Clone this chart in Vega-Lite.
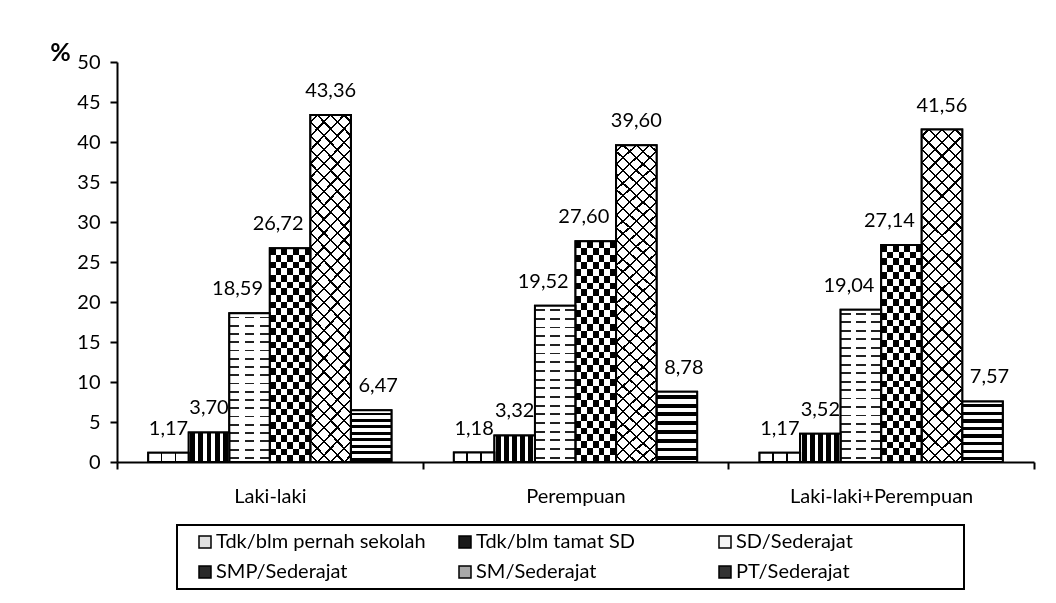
{
  "$schema": "https://vega.github.io/schema/vega-lite/v6.json",
  "width": 917,
  "height": 400,
  "autosize": {"type": "none"},
  "padding": {"left": 117, "top": 62, "right": 22, "bottom": 141},
  "background": "white",
  "data": {
    "values": [
      {"group": "Laki-laki", "edu": "Tdk/blm pernah sekolah", "value": 1.17},
      {"group": "Laki-laki", "edu": "Tdk/blm tamat SD", "value": 3.70},
      {"group": "Laki-laki", "edu": "SD/Sederajat", "value": 18.59},
      {"group": "Laki-laki", "edu": "SMP/Sederajat", "value": 26.72},
      {"group": "Laki-laki", "edu": "SM/Sederajat", "value": 43.36},
      {"group": "Laki-laki", "edu": "PT/Sederajat", "value": 6.47},
      {"group": "Perempuan", "edu": "Tdk/blm pernah sekolah", "value": 1.18},
      {"group": "Perempuan", "edu": "Tdk/blm tamat SD", "value": 3.32},
      {"group": "Perempuan", "edu": "SD/Sederajat", "value": 19.52},
      {"group": "Perempuan", "edu": "SMP/Sederajat", "value": 27.60},
      {"group": "Perempuan", "edu": "SM/Sederajat", "value": 39.60},
      {"group": "Perempuan", "edu": "PT/Sederajat", "value": 8.78},
      {"group": "Laki-laki+Perempuan", "edu": "Tdk/blm pernah sekolah", "value": 1.17},
      {"group": "Laki-laki+Perempuan", "edu": "Tdk/blm tamat SD", "value": 3.52},
      {"group": "Laki-laki+Perempuan", "edu": "SD/Sederajat", "value": 19.04},
      {"group": "Laki-laki+Perempuan", "edu": "SMP/Sederajat", "value": 27.14},
      {"group": "Laki-laki+Perempuan", "edu": "SM/Sederajat", "value": 41.56},
      {"group": "Laki-laki+Perempuan", "edu": "PT/Sederajat", "value": 7.57}
    ]
  },
  "encoding": {
    "x": {
      "field": "group", "type": "nominal",
      "scale": {"domain": ["Laki-laki", "Perempuan", "Laki-laki+Perempuan"], "paddingInner": 0, "paddingOuter": 0},
      "axis": {"title": null, "labelAngle": 0, "tickBand": "extent", "tickSize": 7, "labelPadding": 17, "labelLimit": 400}
    },
    "xOffset": {
      "field": "edu", "type": "nominal",
      "scale": {"domain": ["Tdk/blm pernah sekolah", "Tdk/blm tamat SD", "SD/Sederajat", "SMP/Sederajat", "SM/Sederajat", "PT/Sederajat"], "paddingInner": 0, "paddingOuter": 0.77}
    },
    "y": {
      "field": "value", "type": "quantitative",
      "scale": {"domain": [0, 50], "nice": false},
      "axis": {
        "values": [0, 5, 10, 15, 20, 25, 30, 35, 40, 45, 50],
        "tickSize": 7, "labelPadding": 10,
        "title": "%", "titleAngle": 0, "titleX": -57, "titleY": -10,
        "titleAlign": "center", "titleBaseline": "middle",
        "titleFont": "Lato", "titleFontSize": 25, "titleFontWeight": "bold", "titleColor": "black"
      }
    }
  },
  "layer": [
    {
      "mark": {"type": "bar", "stroke": "black", "strokeWidth": 2},
      "encoding": {
        "fill": {
          "field": "edu", "type": "nominal",
          "scale": {
            "domain": ["Tdk/blm pernah sekolah", "Tdk/blm tamat SD", "SD/Sederajat", "SMP/Sederajat", "SM/Sederajat", "PT/Sederajat"],
            "range": ["#e0e0e0", "#1a1a1a", "#f4f4f4", "#2a2a2a", "#a8a8a8", "#333333"]
          },
          "legend": {
            "title": " ", "titleOrient": "right", "titlePadding": 104, "titleFontSize": 10,
            "orient": "none", "legendX": 60, "legendY": 463,
            "direction": "horizontal", "columns": 3, "gridAlign": "all",
            "symbolType": "square", "symbolSize": 144, "symbolStrokeColor": "black", "symbolStrokeWidth": 1.5,
            "symbolOffset": 11, "labelOffset": 1, "columnPadding": 18, "rowPadding": 10, "padding": 7,
            "labelFont": "Lato", "labelFontSize": 20, "labelColor": "black", "labelLimit": 400,
            "strokeColor": "black",
            "encode": {"legend": {"update": {"strokeWidth": {"value": 2}}}}
          }
        }
      }
    },
    {
      "transform": [{"filter": "datum.edu === 'Tdk/blm pernah sekolah'"}],
      "mark": {"type": "bar", "fill": {"gradient": "linear", "x1": 0, "y1": 0, "x2": 1, "y2": 0, "stops": [
        {"offset": 0, "color": "white"}, {"offset": 0.31, "color": "white"}, {"offset": 0.31, "color": "black"}, {"offset": 0.35, "color": "black"},
        {"offset": 0.35, "color": "white"}, {"offset": 0.65, "color": "white"}, {"offset": 0.65, "color": "black"}, {"offset": 0.69, "color": "black"},
        {"offset": 0.69, "color": "white"}, {"offset": 1, "color": "white"}]}}
    },
    {
      "transform": [{"filter": "datum.edu === 'Tdk/blm tamat SD'"}],
      "mark": {"type": "bar", "fill": {"gradient": "linear", "x1": 0, "y1": 0, "x2": 1, "y2": 0, "stops": [
        {"offset": 0, "color": "white"}, {"offset": 0.04, "color": "white"}, {"offset": 0.04, "color": "black"}, {"offset": 0.16, "color": "black"},
        {"offset": 0.16, "color": "white"}, {"offset": 0.24, "color": "white"}, {"offset": 0.24, "color": "black"}, {"offset": 0.36, "color": "black"},
        {"offset": 0.36, "color": "white"}, {"offset": 0.44, "color": "white"}, {"offset": 0.44, "color": "black"}, {"offset": 0.56, "color": "black"},
        {"offset": 0.56, "color": "white"}, {"offset": 0.64, "color": "white"}, {"offset": 0.64, "color": "black"}, {"offset": 0.76, "color": "black"},
        {"offset": 0.76, "color": "white"}, {"offset": 0.84, "color": "white"}, {"offset": 0.84, "color": "black"}, {"offset": 0.96, "color": "black"},
        {"offset": 0.96, "color": "white"}, {"offset": 1, "color": "white"}]}}
    },
    {
      "transform": [{"filter": "datum.edu === 'SD/Sederajat'"}],
      "mark": {"type": "bar", "fill": {"gradient": "linear", "x1": 0, "y1": 0, "x2": 0, "y2": 1, "stops": [
        {"offset": 0, "color": "white"},
        {"offset": 0.0218, "color": "white"}, {"offset": 0.0218, "color": "#222"}, {"offset": 0.0338, "color": "#222"}, {"offset": 0.0338, "color": "white"},
        {"offset": 0.0773, "color": "white"}, {"offset": 0.0773, "color": "#222"}, {"offset": 0.0893, "color": "#222"}, {"offset": 0.0893, "color": "white"},
        {"offset": 0.1329, "color": "white"}, {"offset": 0.1329, "color": "#222"}, {"offset": 0.1449, "color": "#222"}, {"offset": 0.1449, "color": "white"},
        {"offset": 0.1884, "color": "white"}, {"offset": 0.1884, "color": "#222"}, {"offset": 0.2004, "color": "#222"}, {"offset": 0.2004, "color": "white"},
        {"offset": 0.244, "color": "white"}, {"offset": 0.244, "color": "#222"}, {"offset": 0.256, "color": "#222"}, {"offset": 0.256, "color": "white"},
        {"offset": 0.2996, "color": "white"}, {"offset": 0.2996, "color": "#222"}, {"offset": 0.3116, "color": "#222"}, {"offset": 0.3116, "color": "white"},
        {"offset": 0.3551, "color": "white"}, {"offset": 0.3551, "color": "#222"}, {"offset": 0.3671, "color": "#222"}, {"offset": 0.3671, "color": "white"},
        {"offset": 0.4107, "color": "white"}, {"offset": 0.4107, "color": "#222"}, {"offset": 0.4227, "color": "#222"}, {"offset": 0.4227, "color": "white"},
        {"offset": 0.4662, "color": "white"}, {"offset": 0.4662, "color": "#222"}, {"offset": 0.4782, "color": "#222"}, {"offset": 0.4782, "color": "white"},
        {"offset": 0.5218, "color": "white"}, {"offset": 0.5218, "color": "#222"}, {"offset": 0.5338, "color": "#222"}, {"offset": 0.5338, "color": "white"},
        {"offset": 0.5773, "color": "white"}, {"offset": 0.5773, "color": "#222"}, {"offset": 0.5893, "color": "#222"}, {"offset": 0.5893, "color": "white"},
        {"offset": 0.6329, "color": "white"}, {"offset": 0.6329, "color": "#222"}, {"offset": 0.6449, "color": "#222"}, {"offset": 0.6449, "color": "white"},
        {"offset": 0.6884, "color": "white"}, {"offset": 0.6884, "color": "#222"}, {"offset": 0.7004, "color": "#222"}, {"offset": 0.7004, "color": "white"},
        {"offset": 0.744, "color": "white"}, {"offset": 0.744, "color": "#222"}, {"offset": 0.756, "color": "#222"}, {"offset": 0.756, "color": "white"},
        {"offset": 0.7996, "color": "white"}, {"offset": 0.7996, "color": "#222"}, {"offset": 0.8116, "color": "#222"}, {"offset": 0.8116, "color": "white"},
        {"offset": 0.8551, "color": "white"}, {"offset": 0.8551, "color": "#222"}, {"offset": 0.8671, "color": "#222"}, {"offset": 0.8671, "color": "white"},
        {"offset": 0.9107, "color": "white"}, {"offset": 0.9107, "color": "#222"}, {"offset": 0.9227, "color": "#222"}, {"offset": 0.9227, "color": "white"},
        {"offset": 0.9662, "color": "white"}, {"offset": 0.9662, "color": "#222"}, {"offset": 0.9782, "color": "#222"}, {"offset": 0.9782, "color": "white"},
        {"offset": 1, "color": "white"}]}}
    },
    {
      "transform": [{"filter": "datum.edu === 'SMP/Sederajat'"}],
      "mark": {"type": "bar", "fill": {"gradient": "linear", "x1": 0, "y1": 0, "x2": 1, "y2": 0, "stops": [
        {"offset": 0, "color": "black"}, {"offset": 0.1429, "color": "black"}, {"offset": 0.1429, "color": "white"}, {"offset": 0.2857, "color": "white"},
        {"offset": 0.2857, "color": "black"}, {"offset": 0.4286, "color": "black"}, {"offset": 0.4286, "color": "white"}, {"offset": 0.5714, "color": "white"},
        {"offset": 0.5714, "color": "black"}, {"offset": 0.7143, "color": "black"}, {"offset": 0.7143, "color": "white"}, {"offset": 0.8571, "color": "white"},
        {"offset": 0.8571, "color": "black"}, {"offset": 1, "color": "black"}]}}
    },
    {
      "transform": [{"filter": "datum.edu === 'SM/Sederajat'"}],
      "mark": {"type": "bar", "fill": {"gradient": "linear", "x1": 0, "y1": 0, "x2": 0.1337, "y2": 1.105, "stops": [
        {"offset": 0, "color": "white"},
        {"offset": 0.0149, "color": "white"}, {"offset": 0.0149, "color": "black"}, {"offset": 0.0209, "color": "black"}, {"offset": 0.0209, "color": "white"},
        {"offset": 0.0506, "color": "white"}, {"offset": 0.0506, "color": "black"}, {"offset": 0.0566, "color": "black"}, {"offset": 0.0566, "color": "white"},
        {"offset": 0.0863, "color": "white"}, {"offset": 0.0863, "color": "black"}, {"offset": 0.0923, "color": "black"}, {"offset": 0.0923, "color": "white"},
        {"offset": 0.122, "color": "white"}, {"offset": 0.122, "color": "black"}, {"offset": 0.128, "color": "black"}, {"offset": 0.128, "color": "white"},
        {"offset": 0.1577, "color": "white"}, {"offset": 0.1577, "color": "black"}, {"offset": 0.1637, "color": "black"}, {"offset": 0.1637, "color": "white"},
        {"offset": 0.1934, "color": "white"}, {"offset": 0.1934, "color": "black"}, {"offset": 0.1994, "color": "black"}, {"offset": 0.1994, "color": "white"},
        {"offset": 0.2291, "color": "white"}, {"offset": 0.2291, "color": "black"}, {"offset": 0.2351, "color": "black"}, {"offset": 0.2351, "color": "white"},
        {"offset": 0.2649, "color": "white"}, {"offset": 0.2649, "color": "black"}, {"offset": 0.2709, "color": "black"}, {"offset": 0.2709, "color": "white"},
        {"offset": 0.3006, "color": "white"}, {"offset": 0.3006, "color": "black"}, {"offset": 0.3066, "color": "black"}, {"offset": 0.3066, "color": "white"},
        {"offset": 0.3363, "color": "white"}, {"offset": 0.3363, "color": "black"}, {"offset": 0.3423, "color": "black"}, {"offset": 0.3423, "color": "white"},
        {"offset": 0.372, "color": "white"}, {"offset": 0.372, "color": "black"}, {"offset": 0.378, "color": "black"}, {"offset": 0.378, "color": "white"},
        {"offset": 0.4077, "color": "white"}, {"offset": 0.4077, "color": "black"}, {"offset": 0.4137, "color": "black"}, {"offset": 0.4137, "color": "white"},
        {"offset": 0.4434, "color": "white"}, {"offset": 0.4434, "color": "black"}, {"offset": 0.4494, "color": "black"}, {"offset": 0.4494, "color": "white"},
        {"offset": 0.4791, "color": "white"}, {"offset": 0.4791, "color": "black"}, {"offset": 0.4851, "color": "black"}, {"offset": 0.4851, "color": "white"},
        {"offset": 0.5149, "color": "white"}, {"offset": 0.5149, "color": "black"}, {"offset": 0.5209, "color": "black"}, {"offset": 0.5209, "color": "white"},
        {"offset": 0.5506, "color": "white"}, {"offset": 0.5506, "color": "black"}, {"offset": 0.5566, "color": "black"}, {"offset": 0.5566, "color": "white"},
        {"offset": 0.5863, "color": "white"}, {"offset": 0.5863, "color": "black"}, {"offset": 0.5923, "color": "black"}, {"offset": 0.5923, "color": "white"},
        {"offset": 0.622, "color": "white"}, {"offset": 0.622, "color": "black"}, {"offset": 0.628, "color": "black"}, {"offset": 0.628, "color": "white"},
        {"offset": 0.6577, "color": "white"}, {"offset": 0.6577, "color": "black"}, {"offset": 0.6637, "color": "black"}, {"offset": 0.6637, "color": "white"},
        {"offset": 0.6934, "color": "white"}, {"offset": 0.6934, "color": "black"}, {"offset": 0.6994, "color": "black"}, {"offset": 0.6994, "color": "white"},
        {"offset": 0.7291, "color": "white"}, {"offset": 0.7291, "color": "black"}, {"offset": 0.7351, "color": "black"}, {"offset": 0.7351, "color": "white"},
        {"offset": 0.7649, "color": "white"}, {"offset": 0.7649, "color": "black"}, {"offset": 0.7709, "color": "black"}, {"offset": 0.7709, "color": "white"},
        {"offset": 0.8006, "color": "white"}, {"offset": 0.8006, "color": "black"}, {"offset": 0.8066, "color": "black"}, {"offset": 0.8066, "color": "white"},
        {"offset": 0.8363, "color": "white"}, {"offset": 0.8363, "color": "black"}, {"offset": 0.8423, "color": "black"}, {"offset": 0.8423, "color": "white"},
        {"offset": 0.872, "color": "white"}, {"offset": 0.872, "color": "black"}, {"offset": 0.878, "color": "black"}, {"offset": 0.878, "color": "white"},
        {"offset": 0.9077, "color": "white"}, {"offset": 0.9077, "color": "black"}, {"offset": 0.9137, "color": "black"}, {"offset": 0.9137, "color": "white"},
        {"offset": 0.9434, "color": "white"}, {"offset": 0.9434, "color": "black"}, {"offset": 0.9494, "color": "black"}, {"offset": 0.9494, "color": "white"},
        {"offset": 0.9791, "color": "white"}, {"offset": 0.9791, "color": "black"}, {"offset": 0.9851, "color": "black"}, {"offset": 0.9851, "color": "white"},
        {"offset": 1, "color": "white"}]}}
    },
    {
      "transform": [{"filter": "datum.edu === 'PT/Sederajat'"}],
      "mark": {"type": "bar", "fill": {"gradient": "linear", "x1": 0, "y1": 0, "x2": 0, "y2": 1, "stops": [
        {"offset": 0, "color": "white"},
        {"offset": 0.0438, "color": "white"}, {"offset": 0.0438, "color": "black"}, {"offset": 0.1, "color": "black"}, {"offset": 0.1, "color": "white"},
        {"offset": 0.1688, "color": "white"}, {"offset": 0.1688, "color": "black"}, {"offset": 0.225, "color": "black"}, {"offset": 0.225, "color": "white"},
        {"offset": 0.2938, "color": "white"}, {"offset": 0.2938, "color": "black"}, {"offset": 0.35, "color": "black"}, {"offset": 0.35, "color": "white"},
        {"offset": 0.4188, "color": "white"}, {"offset": 0.4188, "color": "black"}, {"offset": 0.475, "color": "black"}, {"offset": 0.475, "color": "white"},
        {"offset": 0.5438, "color": "white"}, {"offset": 0.5438, "color": "black"}, {"offset": 0.6, "color": "black"}, {"offset": 0.6, "color": "white"},
        {"offset": 0.6688, "color": "white"}, {"offset": 0.6688, "color": "black"}, {"offset": 0.725, "color": "black"}, {"offset": 0.725, "color": "white"},
        {"offset": 0.7938, "color": "white"}, {"offset": 0.7938, "color": "black"}, {"offset": 0.85, "color": "black"}, {"offset": 0.85, "color": "white"},
        {"offset": 0.9188, "color": "white"}, {"offset": 0.9188, "color": "black"}, {"offset": 0.975, "color": "black"}, {"offset": 0.975, "color": "white"},
        {"offset": 1, "color": "white"}]}}
    },
    {
      "transform": [{"filter": "datum.edu === 'SD/Sederajat'"}],
      "mark": {"type": "bar", "fill": {"gradient": "linear", "x1": 0, "y1": 0, "x2": 1, "y2": 0, "stops": [
        {"offset": 0, "color": "rgba(255,255,255,0)"}, {"offset": 0.25, "color": "rgba(255,255,255,0)"}, {"offset": 0.25, "color": "white"}, {"offset": 0.38, "color": "white"},
        {"offset": 0.38, "color": "rgba(255,255,255,0)"}, {"offset": 0.62, "color": "rgba(255,255,255,0)"}, {"offset": 0.62, "color": "white"}, {"offset": 0.75, "color": "white"},
        {"offset": 0.75, "color": "rgba(255,255,255,0)"}, {"offset": 1, "color": "rgba(255,255,255,0)"}]}}
    },
    {
      "transform": [{"filter": "datum.edu === 'SMP/Sederajat'"}],
      "mark": {"type": "bar", "blend": "difference", "fill": {"gradient": "linear", "x1": 0, "y1": 0, "x2": 0, "y2": 1, "stops": [
        {"offset": 0, "color": "black"}, {"offset": 0.03125, "color": "black"}, {"offset": 0.03125, "color": "white"}, {"offset": 0.0625, "color": "white"},
        {"offset": 0.0625, "color": "black"}, {"offset": 0.09375, "color": "black"}, {"offset": 0.09375, "color": "white"}, {"offset": 0.125, "color": "white"},
        {"offset": 0.125, "color": "black"}, {"offset": 0.15625, "color": "black"}, {"offset": 0.15625, "color": "white"}, {"offset": 0.1875, "color": "white"},
        {"offset": 0.1875, "color": "black"}, {"offset": 0.21875, "color": "black"}, {"offset": 0.21875, "color": "white"}, {"offset": 0.25, "color": "white"},
        {"offset": 0.25, "color": "black"}, {"offset": 0.28125, "color": "black"}, {"offset": 0.28125, "color": "white"}, {"offset": 0.3125, "color": "white"},
        {"offset": 0.3125, "color": "black"}, {"offset": 0.34375, "color": "black"}, {"offset": 0.34375, "color": "white"}, {"offset": 0.375, "color": "white"},
        {"offset": 0.375, "color": "black"}, {"offset": 0.40625, "color": "black"}, {"offset": 0.40625, "color": "white"}, {"offset": 0.4375, "color": "white"},
        {"offset": 0.4375, "color": "black"}, {"offset": 0.46875, "color": "black"}, {"offset": 0.46875, "color": "white"}, {"offset": 0.5, "color": "white"},
        {"offset": 0.5, "color": "black"}, {"offset": 0.53125, "color": "black"}, {"offset": 0.53125, "color": "white"}, {"offset": 0.5625, "color": "white"},
        {"offset": 0.5625, "color": "black"}, {"offset": 0.59375, "color": "black"}, {"offset": 0.59375, "color": "white"}, {"offset": 0.625, "color": "white"},
        {"offset": 0.625, "color": "black"}, {"offset": 0.65625, "color": "black"}, {"offset": 0.65625, "color": "white"}, {"offset": 0.6875, "color": "white"},
        {"offset": 0.6875, "color": "black"}, {"offset": 0.71875, "color": "black"}, {"offset": 0.71875, "color": "white"}, {"offset": 0.75, "color": "white"},
        {"offset": 0.75, "color": "black"}, {"offset": 0.78125, "color": "black"}, {"offset": 0.78125, "color": "white"}, {"offset": 0.8125, "color": "white"},
        {"offset": 0.8125, "color": "black"}, {"offset": 0.84375, "color": "black"}, {"offset": 0.84375, "color": "white"}, {"offset": 0.875, "color": "white"},
        {"offset": 0.875, "color": "black"}, {"offset": 0.90625, "color": "black"}, {"offset": 0.90625, "color": "white"}, {"offset": 0.9375, "color": "white"},
        {"offset": 0.9375, "color": "black"}, {"offset": 0.96875, "color": "black"}, {"offset": 0.96875, "color": "white"}, {"offset": 1, "color": "white"}]}}
    },
    {
      "transform": [{"filter": "datum.edu === 'SM/Sederajat'"}],
      "mark": {"type": "bar", "fill": {"gradient": "linear", "x1": 0, "y1": 1, "x2": 0.1337, "y2": -0.105, "stops": [
        {"offset": 0, "color": "rgba(0,0,0,0)"},
        {"offset": 0.0149, "color": "rgba(0,0,0,0)"}, {"offset": 0.0149, "color": "black"}, {"offset": 0.0209, "color": "black"}, {"offset": 0.0209, "color": "rgba(0,0,0,0)"},
        {"offset": 0.0506, "color": "rgba(0,0,0,0)"}, {"offset": 0.0506, "color": "black"}, {"offset": 0.0566, "color": "black"}, {"offset": 0.0566, "color": "rgba(0,0,0,0)"},
        {"offset": 0.0863, "color": "rgba(0,0,0,0)"}, {"offset": 0.0863, "color": "black"}, {"offset": 0.0923, "color": "black"}, {"offset": 0.0923, "color": "rgba(0,0,0,0)"},
        {"offset": 0.122, "color": "rgba(0,0,0,0)"}, {"offset": 0.122, "color": "black"}, {"offset": 0.128, "color": "black"}, {"offset": 0.128, "color": "rgba(0,0,0,0)"},
        {"offset": 0.1577, "color": "rgba(0,0,0,0)"}, {"offset": 0.1577, "color": "black"}, {"offset": 0.1637, "color": "black"}, {"offset": 0.1637, "color": "rgba(0,0,0,0)"},
        {"offset": 0.1934, "color": "rgba(0,0,0,0)"}, {"offset": 0.1934, "color": "black"}, {"offset": 0.1994, "color": "black"}, {"offset": 0.1994, "color": "rgba(0,0,0,0)"},
        {"offset": 0.2291, "color": "rgba(0,0,0,0)"}, {"offset": 0.2291, "color": "black"}, {"offset": 0.2351, "color": "black"}, {"offset": 0.2351, "color": "rgba(0,0,0,0)"},
        {"offset": 0.2649, "color": "rgba(0,0,0,0)"}, {"offset": 0.2649, "color": "black"}, {"offset": 0.2709, "color": "black"}, {"offset": 0.2709, "color": "rgba(0,0,0,0)"},
        {"offset": 0.3006, "color": "rgba(0,0,0,0)"}, {"offset": 0.3006, "color": "black"}, {"offset": 0.3066, "color": "black"}, {"offset": 0.3066, "color": "rgba(0,0,0,0)"},
        {"offset": 0.3363, "color": "rgba(0,0,0,0)"}, {"offset": 0.3363, "color": "black"}, {"offset": 0.3423, "color": "black"}, {"offset": 0.3423, "color": "rgba(0,0,0,0)"},
        {"offset": 0.372, "color": "rgba(0,0,0,0)"}, {"offset": 0.372, "color": "black"}, {"offset": 0.378, "color": "black"}, {"offset": 0.378, "color": "rgba(0,0,0,0)"},
        {"offset": 0.4077, "color": "rgba(0,0,0,0)"}, {"offset": 0.4077, "color": "black"}, {"offset": 0.4137, "color": "black"}, {"offset": 0.4137, "color": "rgba(0,0,0,0)"},
        {"offset": 0.4434, "color": "rgba(0,0,0,0)"}, {"offset": 0.4434, "color": "black"}, {"offset": 0.4494, "color": "black"}, {"offset": 0.4494, "color": "rgba(0,0,0,0)"},
        {"offset": 0.4791, "color": "rgba(0,0,0,0)"}, {"offset": 0.4791, "color": "black"}, {"offset": 0.4851, "color": "black"}, {"offset": 0.4851, "color": "rgba(0,0,0,0)"},
        {"offset": 0.5149, "color": "rgba(0,0,0,0)"}, {"offset": 0.5149, "color": "black"}, {"offset": 0.5209, "color": "black"}, {"offset": 0.5209, "color": "rgba(0,0,0,0)"},
        {"offset": 0.5506, "color": "rgba(0,0,0,0)"}, {"offset": 0.5506, "color": "black"}, {"offset": 0.5566, "color": "black"}, {"offset": 0.5566, "color": "rgba(0,0,0,0)"},
        {"offset": 0.5863, "color": "rgba(0,0,0,0)"}, {"offset": 0.5863, "color": "black"}, {"offset": 0.5923, "color": "black"}, {"offset": 0.5923, "color": "rgba(0,0,0,0)"},
        {"offset": 0.622, "color": "rgba(0,0,0,0)"}, {"offset": 0.622, "color": "black"}, {"offset": 0.628, "color": "black"}, {"offset": 0.628, "color": "rgba(0,0,0,0)"},
        {"offset": 0.6577, "color": "rgba(0,0,0,0)"}, {"offset": 0.6577, "color": "black"}, {"offset": 0.6637, "color": "black"}, {"offset": 0.6637, "color": "rgba(0,0,0,0)"},
        {"offset": 0.6934, "color": "rgba(0,0,0,0)"}, {"offset": 0.6934, "color": "black"}, {"offset": 0.6994, "color": "black"}, {"offset": 0.6994, "color": "rgba(0,0,0,0)"},
        {"offset": 0.7291, "color": "rgba(0,0,0,0)"}, {"offset": 0.7291, "color": "black"}, {"offset": 0.7351, "color": "black"}, {"offset": 0.7351, "color": "rgba(0,0,0,0)"},
        {"offset": 0.7649, "color": "rgba(0,0,0,0)"}, {"offset": 0.7649, "color": "black"}, {"offset": 0.7709, "color": "black"}, {"offset": 0.7709, "color": "rgba(0,0,0,0)"},
        {"offset": 0.8006, "color": "rgba(0,0,0,0)"}, {"offset": 0.8006, "color": "black"}, {"offset": 0.8066, "color": "black"}, {"offset": 0.8066, "color": "rgba(0,0,0,0)"},
        {"offset": 0.8363, "color": "rgba(0,0,0,0)"}, {"offset": 0.8363, "color": "black"}, {"offset": 0.8423, "color": "black"}, {"offset": 0.8423, "color": "rgba(0,0,0,0)"},
        {"offset": 0.872, "color": "rgba(0,0,0,0)"}, {"offset": 0.872, "color": "black"}, {"offset": 0.878, "color": "black"}, {"offset": 0.878, "color": "rgba(0,0,0,0)"},
        {"offset": 0.9077, "color": "rgba(0,0,0,0)"}, {"offset": 0.9077, "color": "black"}, {"offset": 0.9137, "color": "black"}, {"offset": 0.9137, "color": "rgba(0,0,0,0)"},
        {"offset": 0.9434, "color": "rgba(0,0,0,0)"}, {"offset": 0.9434, "color": "black"}, {"offset": 0.9494, "color": "black"}, {"offset": 0.9494, "color": "rgba(0,0,0,0)"},
        {"offset": 0.9791, "color": "rgba(0,0,0,0)"}, {"offset": 0.9791, "color": "black"}, {"offset": 0.9851, "color": "black"}, {"offset": 0.9851, "color": "rgba(0,0,0,0)"},
        {"offset": 1, "color": "rgba(0,0,0,0)"}]}}
    },
    {
      "mark": {"type": "bar", "fillOpacity": 0, "stroke": "black", "strokeWidth": 2}
    },
    {
      "transform": [{"filter": "datum.edu === 'Tdk/blm pernah sekolah' || datum.edu === 'Tdk/blm tamat SD' || datum.edu === 'SM/Sederajat'"}],
      "mark": {"type": "text", "baseline": "alphabetic", "align": "center", "dy": -18, "font": "Lato", "fontSize": 20, "fill": "black"},
      "encoding": {"text": {"field": "value", "type": "quantitative", "format": ".2f"}}
    },
    {
      "transform": [{"filter": "datum.edu === 'SD/Sederajat' || datum.edu === 'SMP/Sederajat'"}],
      "mark": {"type": "text", "baseline": "alphabetic", "align": "center", "dy": -18, "dx": -12, "font": "Lato", "fontSize": 20, "fill": "black"},
      "encoding": {"text": {"field": "value", "type": "quantitative", "format": ".2f"}}
    },
    {
      "transform": [{"filter": "datum.edu === 'PT/Sederajat'"}],
      "mark": {"type": "text", "baseline": "alphabetic", "align": "center", "dy": -18, "dx": 7, "font": "Lato", "fontSize": 20, "fill": "black"},
      "encoding": {"text": {"field": "value", "type": "quantitative", "format": ".2f"}}
    }
  ],
  "config": {
    "view": {"stroke": null},
    "font": "Lato",
    "locale": {"number": {"decimal": ",", "thousands": ".", "grouping": [3], "currency": ["", ""]}},
    "axis": {
      "labelFont": "Lato", "labelFontSize": 20, "labelColor": "black",
      "domainColor": "black", "domainWidth": 2, "tickColor": "black", "tickWidth": 2, "grid": false
    }
  }
}
